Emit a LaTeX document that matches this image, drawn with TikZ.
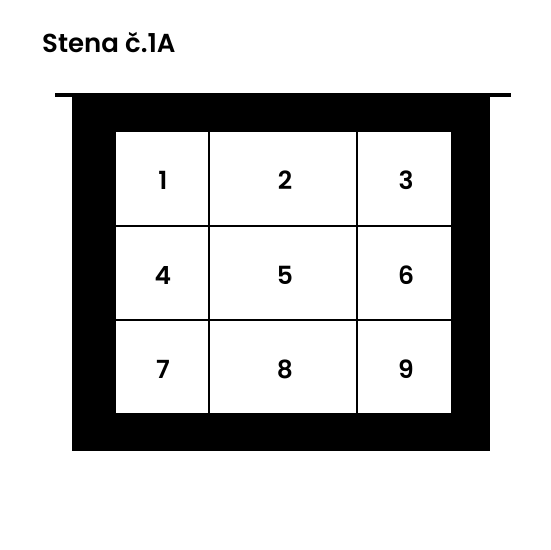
\documentclass[tikz,border=0pt]{standalone}
\usepackage{fontspec}
\setmainfont{Poppins SemiBold}
\begin{document}
\begin{tikzpicture}[x=1pt,y=-1pt,
  lbl/.style={font=\fontsize{25}{30}\selectfont, inner sep=0pt, text=black},
  gridline/.style={line width=2pt, draw=black}]
\useasboundingbox (0,0) rectangle (550,550);
\fill[white] (0,0) rectangle (550,550);
\node[lbl, anchor=base west, font=\fontsize{26}{30}\selectfont] (title) at (42,52) {Stena č.1A};
% wall frame
\fill[black] (72,93) rectangle (490,450.7);
\fill[black] (55,93) rectangle (511,97);
\fill[white] (115.7,132) rectangle (450.7,413.3);
\draw[gridline] (209,132) -- (209,413.3);
\draw[gridline] (357,132) -- (357,413.3);
\draw[gridline] (115.7,225.5) -- (450.7,225.5);
\draw[gridline] (115.7,320) -- (450.7,320);
\node[lbl] (n1) at (163,180) {1};
\node[lbl] (n2) at (285,180) {2};
\node[lbl] (n3) at (406,180) {3};
\node[lbl] (n4) at (163,275) {4};
\node[lbl] (n5) at (285,275) {5};
\node[lbl] (n6) at (406,275) {6};
\node[lbl] (n7) at (163,369) {7};
\node[lbl] (n8) at (285,369) {8};
\node[lbl] (n9) at (406,369) {9};
\end{tikzpicture}
\end{document}
